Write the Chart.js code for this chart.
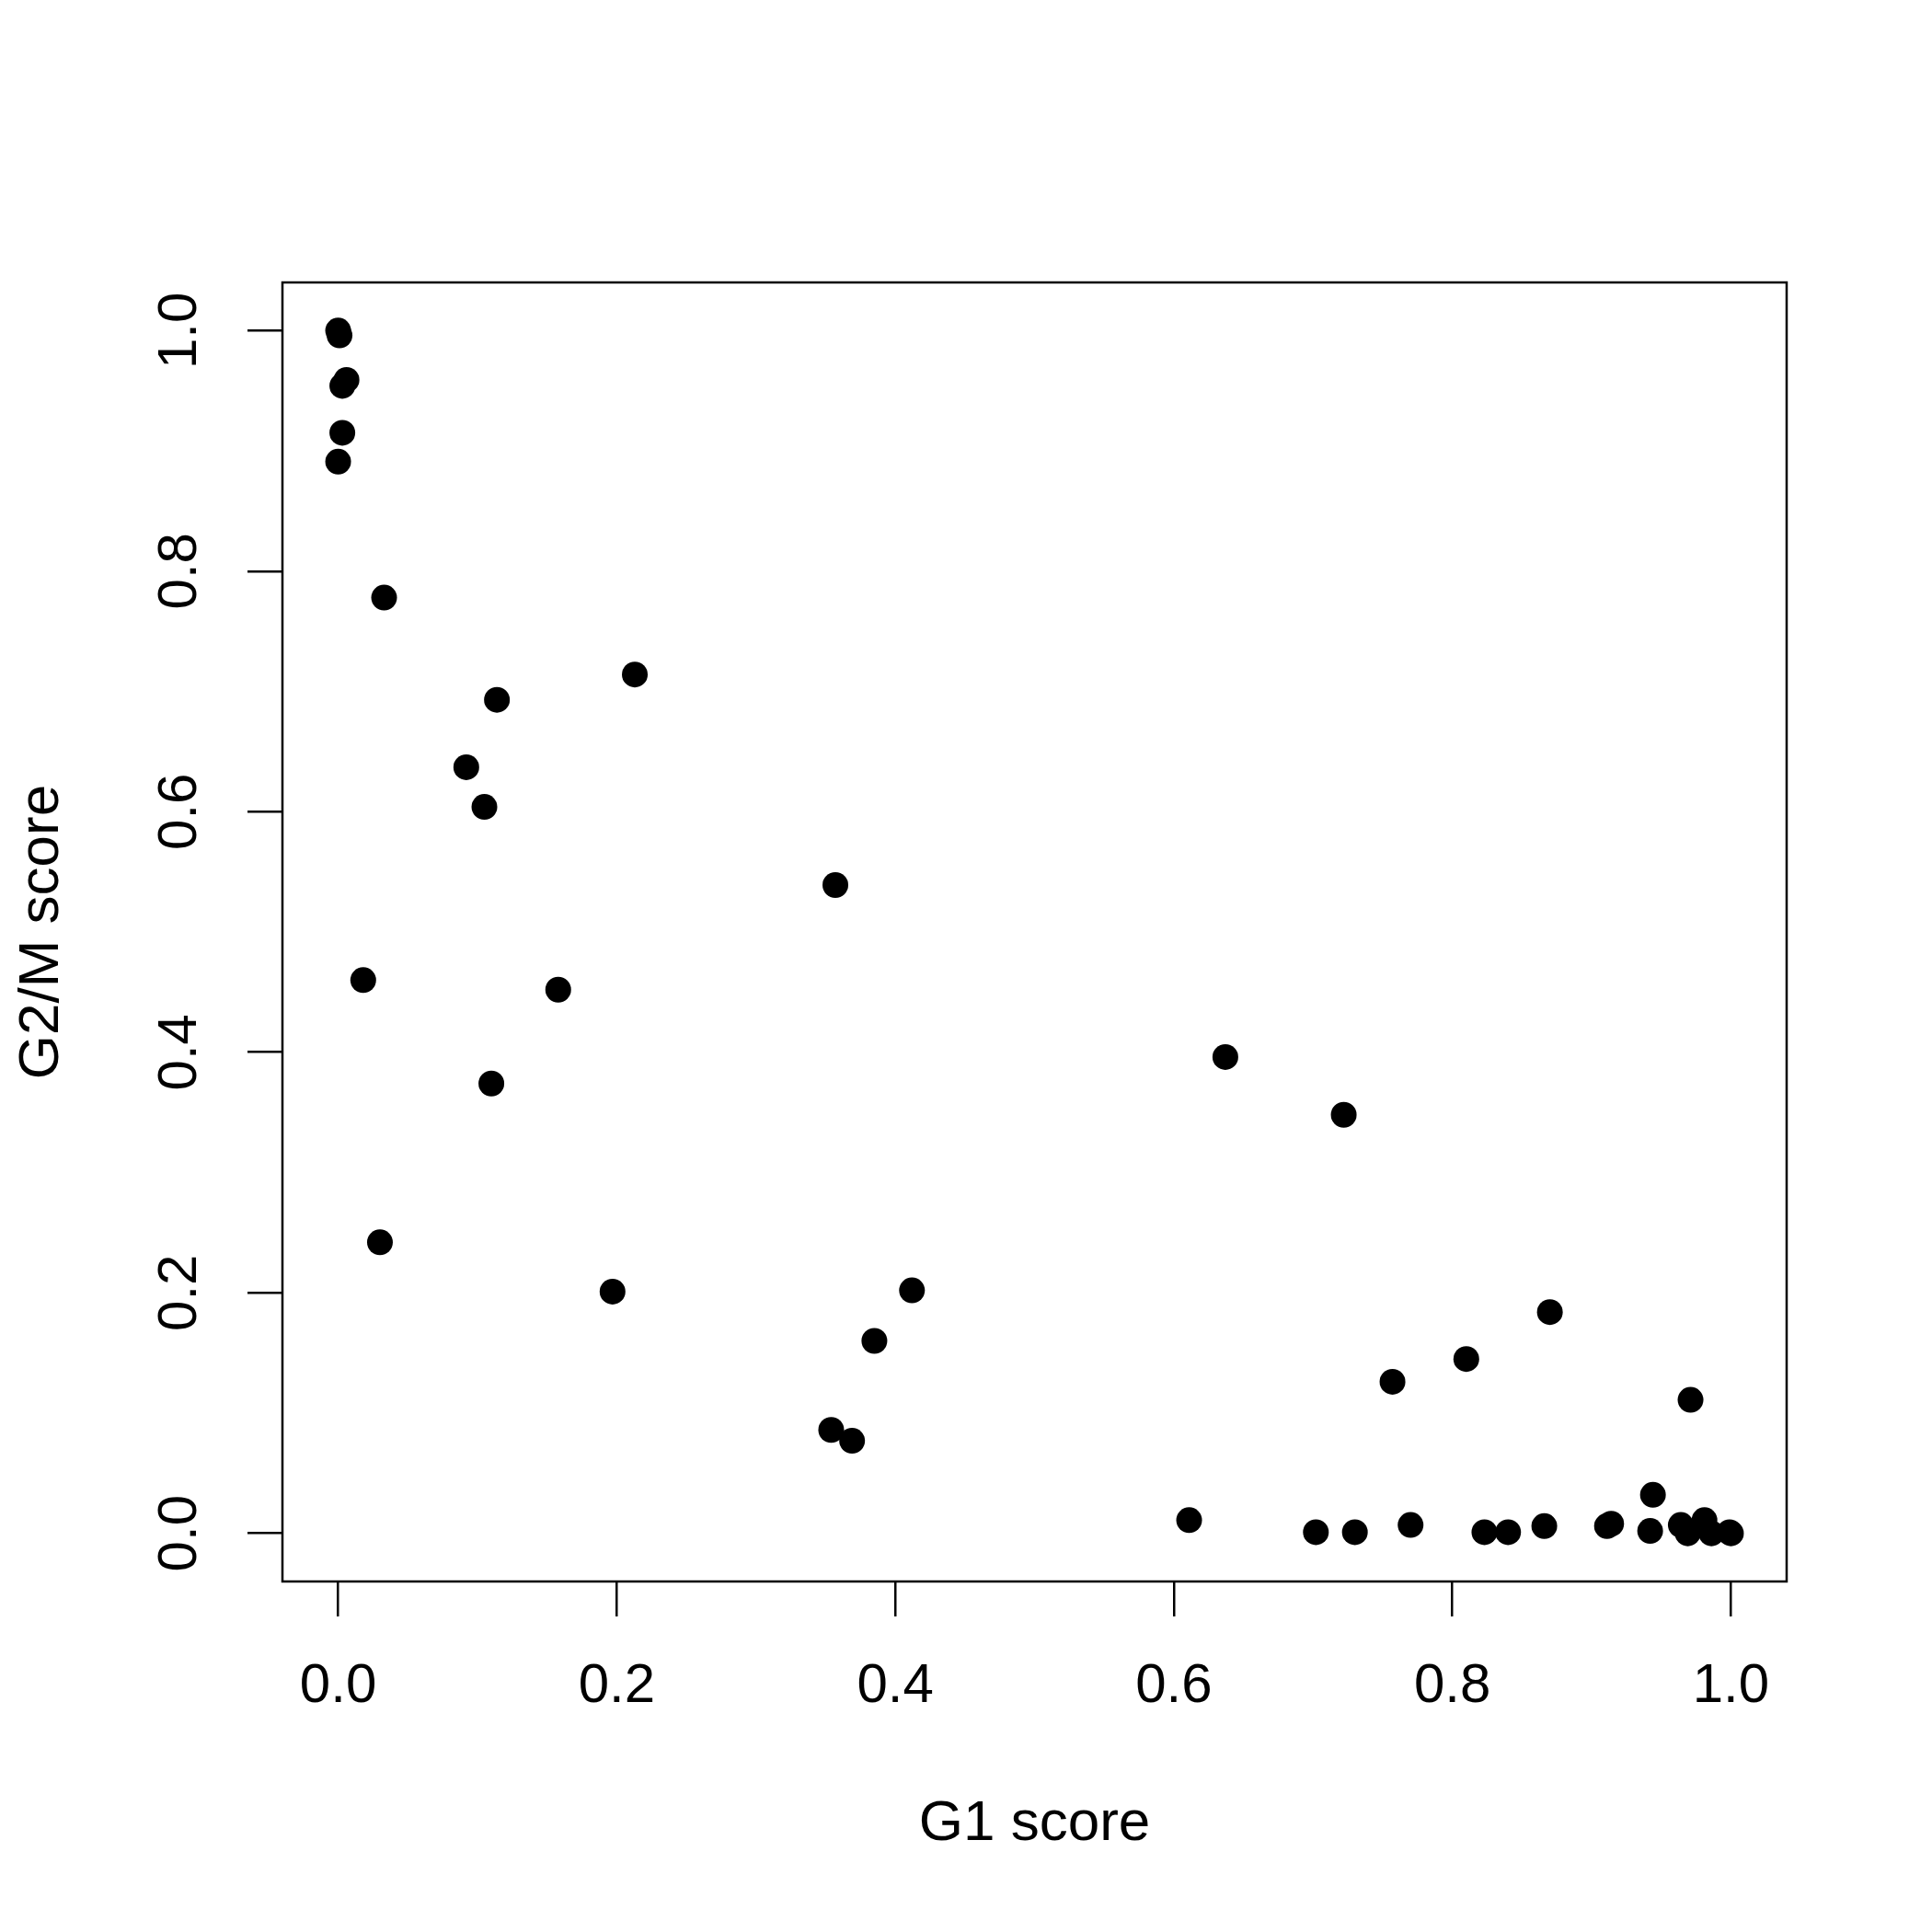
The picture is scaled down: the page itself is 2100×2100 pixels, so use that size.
<html>

<head>
  <title>G1 vs G2/M score</title>
  <style>
    body {
      margin: 0;
      background: #fff;
    }
  </style>
  <script src="https://cdnjs.cloudflare.com/ajax/libs/Chart.js/4.4.1/chart.umd.min.js"></script>
</head>

<body>
  <canvas id="chart" width="2100" height="2100"></canvas>

  <script>
    // values
    const g1Scores = [
      0.000, 0.001, 0.003, 0.006, 0.003, 0.000, 0.033, 0.213, 0.114, 0.092,
      0.105, 0.357, 0.018, 0.158, 0.110, 0.030, 0.197, 0.412, 0.385, 0.354,
      0.369, 0.637, 0.722, 0.757, 0.810, 0.870, 0.971, 0.944, 0.611, 0.702,
      0.730, 0.770, 0.823, 0.840, 0.866, 0.911, 0.914, 0.942, 0.964, 0.969,
      0.981, 0.986, 0.999, 1.000,
    ];
    const g2mScores = [
      1.000, 0.996, 0.954, 0.959, 0.915, 0.891, 0.778, 0.714, 0.693, 0.637,
      0.604, 0.539, 0.460, 0.452, 0.374, 0.242, 0.201, 0.202, 0.160, 0.086,
      0.077, 0.396, 0.348, 0.126, 0.145, 0.184, 0.111, 0.032, 0.011, 0.001,
      0.001, 0.007, 0.001, 0.001, 0.006, 0.006, 0.008, 0.002, 0.007, 0.000,
      0.011, 0.000, 0.001, 0.000,
    ];
    const xTicks = [0, 0.2, 0.4, 0.6, 0.8, 1.0];
    const yTicks = [0, 0.2, 0.4, 0.6, 0.8, 1.0];
    const xTitle = 'G1 score';
    const yTitle = 'G2/M score';

    const points = g1Scores.map((x, i) => ({ x, y: g2mScores[i] }));
    const fontFamily = '"Liberation Sans", Arial, Helvetica, sans-serif';

    // box around the plot region, like base R
    const frame = {
      id: 'frame',
      afterDraw(chart) {
        const { ctx, chartArea } = chart;
        ctx.save();
        ctx.strokeStyle = '#000';
        ctx.lineWidth = 2.5;
        ctx.strokeRect(chartArea.left, chartArea.top,
          chartArea.right - chartArea.left, chartArea.bottom - chartArea.top);
        ctx.restore();
      },
    };

    window.chartObj = new Chart(document.querySelector('canvas#chart'), {
      type: 'scatter',
      data: {
        datasets: [{
          data: points,
          backgroundColor: '#000',
          borderWidth: 0,
          pointRadius: 14,
          pointHoverRadius: 14,
        }],
      },
      options: {
        responsive: false,
        animation: false,
        devicePixelRatio: 1,
        layout: {
          padding: { left: 0, top: 307, right: 158, bottom: 0 },
        },
        plugins: {
          legend: { display: false },
          tooltip: { enabled: false },
        },
        scales: {
          x: {
            type: 'linear',
            min: -0.04,
            max: 1.04,
            afterBuildTicks: (scale) => {
              scale.ticks = xTicks.map(value => ({ value }));
            },
            afterFit: (scale) => {
              scale.height = 381;
            },
            grid: {
              drawOnChartArea: false,
              color: '#000',
              lineWidth: 2.5,
              tickLength: 38,
            },
            border: { display: false },
            ticks: {
              color: '#000',
              padding: 40,
              maxRotation: 0,
              font: { family: fontFamily, size: 60 },
              callback: (v) => Number(v).toFixed(1),
            },
            title: {
              display: true,
              text: xTitle,
              color: '#000',
              font: { family: fontFamily, size: 62 },
              padding: { top: 0, bottom: 80 },
            },
          },
          y: {
            type: 'linear',
            min: -0.04,
            max: 1.04,
            afterBuildTicks: (scale) => {
              scale.ticks = yTicks.map(value => ({ value }));
            },
            afterFit: (scale) => {
              scale.width = 307;
            },
            grid: {
              drawOnChartArea: false,
              color: '#000',
              lineWidth: 2.5,
              tickLength: 38,
            },
            border: { display: false },
            ticks: {
              color: '#000',
              padding: 31,
              minRotation: 90,
              maxRotation: 90,
              crossAlign: 'center',
              font: { family: fontFamily, size: 60 },
              callback: (v) => Number(v).toFixed(1),
            },
            title: {
              display: true,
              text: yTitle,
              color: '#000',
              font: { family: fontFamily, size: 62 },
              padding: { top: 9, bottom: 0 },
            },
          },
        },
      },
      plugins: [frame],
    });
  </script>
</body>

</html>
